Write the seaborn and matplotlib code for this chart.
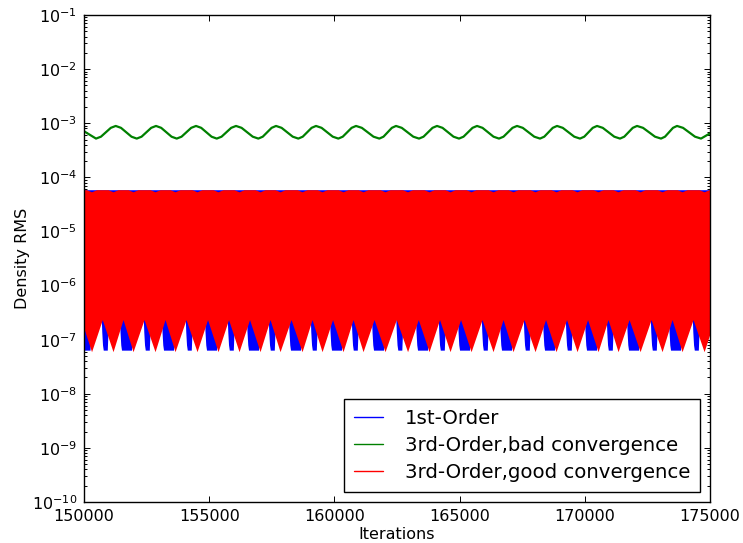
import numpy as np
import pandas as pd
import matplotlib
matplotlib.use("Agg")
import matplotlib.pyplot as plt
import seaborn as sns
from matplotlib.lines import Line2D
from matplotlib.ticker import ScalarFormatter, LogLocator, FixedLocator

# ---------------- data ----------------
labels = ["1st-Order", "3rd-Order,bad convergence", "3rd-Order,good convergence"]
colors = ["#0000ff", "#008000", "#ff0000"]
x_min, x_max = 150000, 175000

# 3rd-Order, bad convergence: turning points of the slow wave (start, troughs/peaks, end)
green_x = [150000, 150479, 151266, 152105, 152875, 153702, 154473, 155300, 156070,
           156961, 157668, 158558, 159265, 160156, 160863, 161793, 162460, 163379,
           164097, 164976, 165695, 166573, 167292, 168211, 168890, 169808, 170487,
           171406, 172085, 173043, 173682, 174641, 175000]
green_y = [7.1e-4] + [5.2e-4, 8.9e-4] * 15 + [5.2e-4, 6.5e-4]
# shape of the wave between two turning points
# (fraction of the half period, fraction of the log swing)
green_shape_f = [0.25, 0.5, 0.75]
green_shape_l = [0.15, 0.5, 0.85]

# 3rd-Order, good convergence: dips of the lower envelope of the fast oscillation
red_tips = [150300, 151158, 151957, 152836, 153635, 154513, 155352, 156191, 157029,
            157828, 158707, 159506, 160344, 161143, 162022, 162921, 163779, 164618,
            165457, 166335, 167134, 168013, 168852, 169690, 170529, 171328, 172207,
            173085, 173884, 174763]
red_tip_y = 6.0e-8          # bottom of each red dip
red_crest_y = 2.35e-7       # lower envelope between dips
red_up_dx = [-200, 0, 200]  # small notch of the upper edge at each dip
red_up_y = [5.9e-5, 5.4e-5, 5.9e-5]

# 1st-Order: blue lobes that show just before each red dip (big / small alternate)
blue_lobe_y = [2.5e-7, 1.4e-7, 8.0e-8, 6.4e-8, 6.4e-8, 2.5e-7]
blue_big_dx = [-540, -520, -490, -460, -60, -20]
blue_small_dx = [-470, -450, -420, -390, -230, -180]
blue_crest_y = 2.5e-7
blue_up = 5.9e-5
band_mid = 2.0e-5

# ---------------- envelopes from the read points ----------------
red_lx, red_ly = [red_tips[0] - 420], [red_crest_y]
for i, t in enumerate(red_tips):
    if i > 0:
        red_lx.append((red_tips[i - 1] + t) / 2)
        red_ly.append(red_crest_y)
    red_lx.append(t)
    red_ly.append(red_tip_y)
red_lx.append(red_tips[-1] + 420)
red_ly.append(red_crest_y)

red_ux, red_uy = [red_tips[0] - 700], [red_up_y[0]]
for t in red_tips:
    red_ux.extend(t + d for d in red_up_dx)
    red_uy.extend(red_up_y)
red_ux.append(red_tips[-1] + 700)
red_uy.append(red_up_y[0])

blue_lx, blue_ly = [red_tips[0] - 900], [blue_crest_y]
for i, t in enumerate(red_tips):
    dxs = blue_big_dx if i % 2 == 0 else blue_small_dx
    blue_lx.extend(t + d for d in dxs)
    blue_ly.extend(blue_lobe_y)
blue_lx.append(red_tips[-1] + 900)
blue_ly.append(blue_crest_y)

gx, gy = [green_x[0]], [green_y[0]]
for i in range(1, len(green_x)):
    x0, x1 = green_x[i - 1], green_x[i]
    l0, l1 = np.log10(green_y[i - 1]), np.log10(green_y[i])
    if 1 < i < len(green_x) - 1:
        for f, l in zip(green_shape_f, green_shape_l):
            gx.append(x0 + f * (x1 - x0))
            gy.append(10 ** (l0 + l * (l1 - l0)))
    gx.append(x1)
    gy.append(green_y[i])
green_df = pd.DataFrame({"Iterations": gx, "Density RMS": gy})

# ---------------- styling ----------------
sns.set_theme(style="white")
plt.rcParams.update({
    "font.family": ["DejaVu Sans"],
    "mathtext.fontset": "dejavusans",
    "axes.unicode_minus": False,
    "axes.edgecolor": "black",
    "axes.linewidth": 1.0,
    "xtick.direction": "in",
    "ytick.direction": "in",
    "xtick.top": True,
    "ytick.right": True,
    "xtick.bottom": True,
    "ytick.left": True,
    "xtick.color": "black",
    "ytick.color": "black",
    "xtick.major.size": 4,
    "ytick.major.size": 4,
    "xtick.minor.size": 2,
    "ytick.minor.size": 2,
    "xtick.major.width": 0.7,
    "ytick.major.width": 0.7,
    "ytick.minor.width": 0.7,
    "xtick.major.pad": 5,
    "ytick.major.pad": 5,
    "xtick.labelsize": 11.5,
    "ytick.labelsize": 11.5,
    "axes.labelsize": 11.5,
    "text.color": "black",
    "axes.labelcolor": "black",
})

fig = plt.figure(figsize=(7.43, 5.43), dpi=100)
ax = fig.add_axes([0.1131, 0.0755, 0.8425, 0.8969])
ax.set_yscale("log")

# 1st-Order band (drawn first, partly hidden by the red band)
ax.fill_between(blue_lx, blue_ly, [blue_up] * len(blue_lx), color=colors[0], lw=0)
# 3rd-Order good convergence band (lower and upper halves)
ax.fill_between(red_lx, red_ly, [band_mid] * len(red_lx), color=colors[2], lw=0)
ax.fill_between(red_ux, [band_mid / 2] * len(red_ux), red_uy, color=colors[2], lw=0)
# 3rd-Order bad convergence line
sns.lineplot(data=green_df, x="Iterations", y="Density RMS", color=colors[1],
             lw=1.6, ax=ax, legend=False, sort=True)

ax.set_xlim(x_min, x_max)
ax.set_ylim(1e-10, 1e-1)
ax.xaxis.set_major_locator(FixedLocator([150000, 155000, 160000, 165000, 170000, 175000]))
fmt = ScalarFormatter(useOffset=False)
fmt.set_scientific(False)
ax.xaxis.set_major_formatter(fmt)
ax.yaxis.set_major_locator(LogLocator(base=10, numticks=20))
ax.yaxis.set_minor_locator(LogLocator(base=10, subs=np.arange(2, 10), numticks=20))
for s in ax.spines.values():
    s.set_visible(True)
    s.set_color("black")

ax.set_xlabel("Iterations", labelpad=2)
ax.set_ylabel("Density RMS", labelpad=1.5)

handles = [Line2D([], [], color=c, lw=1.0) for c in colors]
leg = ax.legend(handles, labels, loc="lower right", fontsize=14.2, frameon=True,
                fancybox=False, shadow=False, framealpha=1, edgecolor="black",
                handlelength=1.5, handletextpad=1.1, borderpad=0.5, labelspacing=0.42,
                borderaxespad=0.5)
leg.get_frame().set_linewidth(1.0)

fig.savefig("out.png", dpi=100, facecolor="white")
